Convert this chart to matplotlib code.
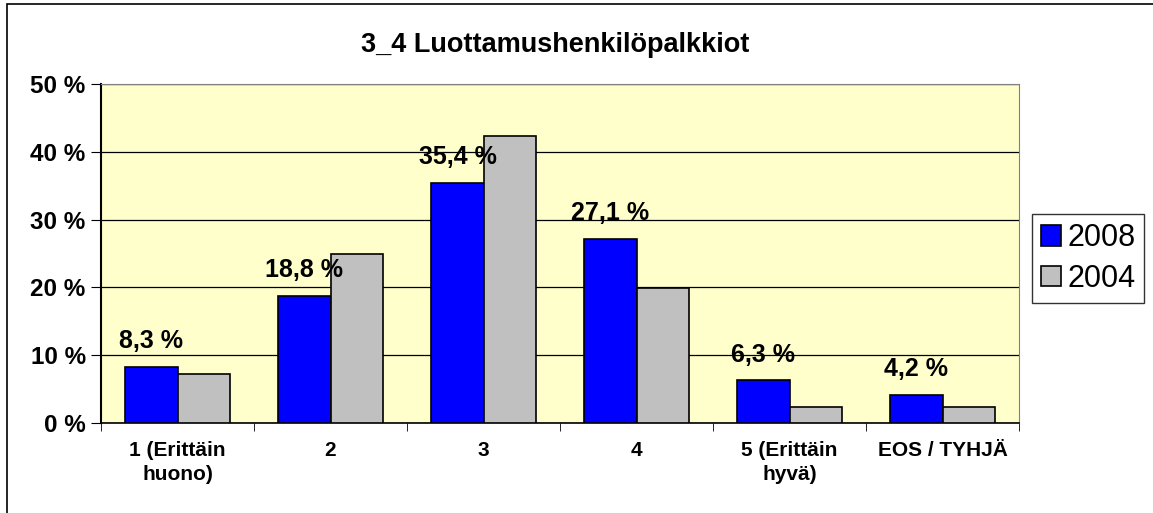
import matplotlib.pyplot as plt
import numpy as np

plt.rcParams['font.family'] = ['Liberation Sans', 'DejaVu Sans']

categories = ['1 (Erittäin\nhuono)', '2', '3', '4', '5 (Erittäin\nhyvä)', 'EOS / TYHJÄ']
v2008 = [8.3, 18.8, 35.4, 27.1, 6.3, 4.2]
v2004 = [7.3, 24.9, 42.3, 19.9, 2.3, 2.3]
labels2008 = ['8,3 %', '18,8 %', '35,4 %', '27,1 %', '6,3 %', '4,2 %']

fig = plt.figure(figsize=(11.53, 5.13), dpi=100)
ax = fig.add_axes([101/1153, 1-423/513, 918/1153, 339/513])
ax.set_facecolor('#FFFFCC')

x = np.arange(len(categories))
w = 0.34
ax.bar(x - w/2, v2008, w, color='#0000FF', edgecolor='black', linewidth=1.2, label='2008', zorder=3)
ax.bar(x + w/2, v2004, w, color='#C0C0C0', edgecolor='black', linewidth=1.2, label='2004', zorder=3)

for xi, v, t in zip(x, v2008, labels2008):
    ax.text(xi - w/2, v + 3.8, t, ha='center', va='center', fontsize=18, fontweight='bold', zorder=4)

ax.set_ylim(0, 50)
ax.set_xlim(-0.5, len(categories) - 0.5)
ax.set_yticks(np.arange(0, 51, 10))
ax.set_yticklabels(['%d %%' % v for v in range(0, 51, 10)], fontsize=17.5, fontweight='bold')
ax.yaxis.grid(True, color='black', linewidth=0.9, zorder=0)
ax.set_axisbelow(True)

ax.set_xticks(x)
ax.set_xticklabels(categories, fontsize=15, fontweight='bold', linespacing=1.3)
ax.tick_params(axis='x', length=0, pad=13)
ax.set_xticks(np.arange(-0.5, len(categories), 1), minor=True)
ax.tick_params(axis='x', which='minor', length=6, color='black')
ax.tick_params(axis='y', length=7, direction='out', pad=4)

for s in ['top', 'right']:
    ax.spines[s].set_color('#808080')
for s in ['left', 'bottom']:
    ax.spines[s].set_color('black')
ax.spines['left'].set_linewidth(1.5)
ax.spines['bottom'].set_linewidth(1.2)

fig.text(555/1153, 1-45/513, '3_4 Luottamushenkilöpalkkiot', ha='center', va='center',
         fontsize=19.5, fontweight='bold')

leg = ax.legend(loc='upper left', bbox_to_anchor=(1032/1153, 1-214/513), bbox_transform=fig.transFigure,
                fontsize=22, frameon=True, fancybox=False, edgecolor='black', handlelength=0.65,
                handleheight=0.65, handletextpad=0.2, borderpad=0.3, labelspacing=0.35, borderaxespad=0)
leg.get_frame().set_linewidth(1.0)

fig.patches.append(plt.Rectangle((7/1153, -0.1), 1.2, 1 - 4/513 + 0.1, transform=fig.transFigure,
                                 fill=False, edgecolor='black', linewidth=1.2))

fig.savefig('out.png', dpi=100)
